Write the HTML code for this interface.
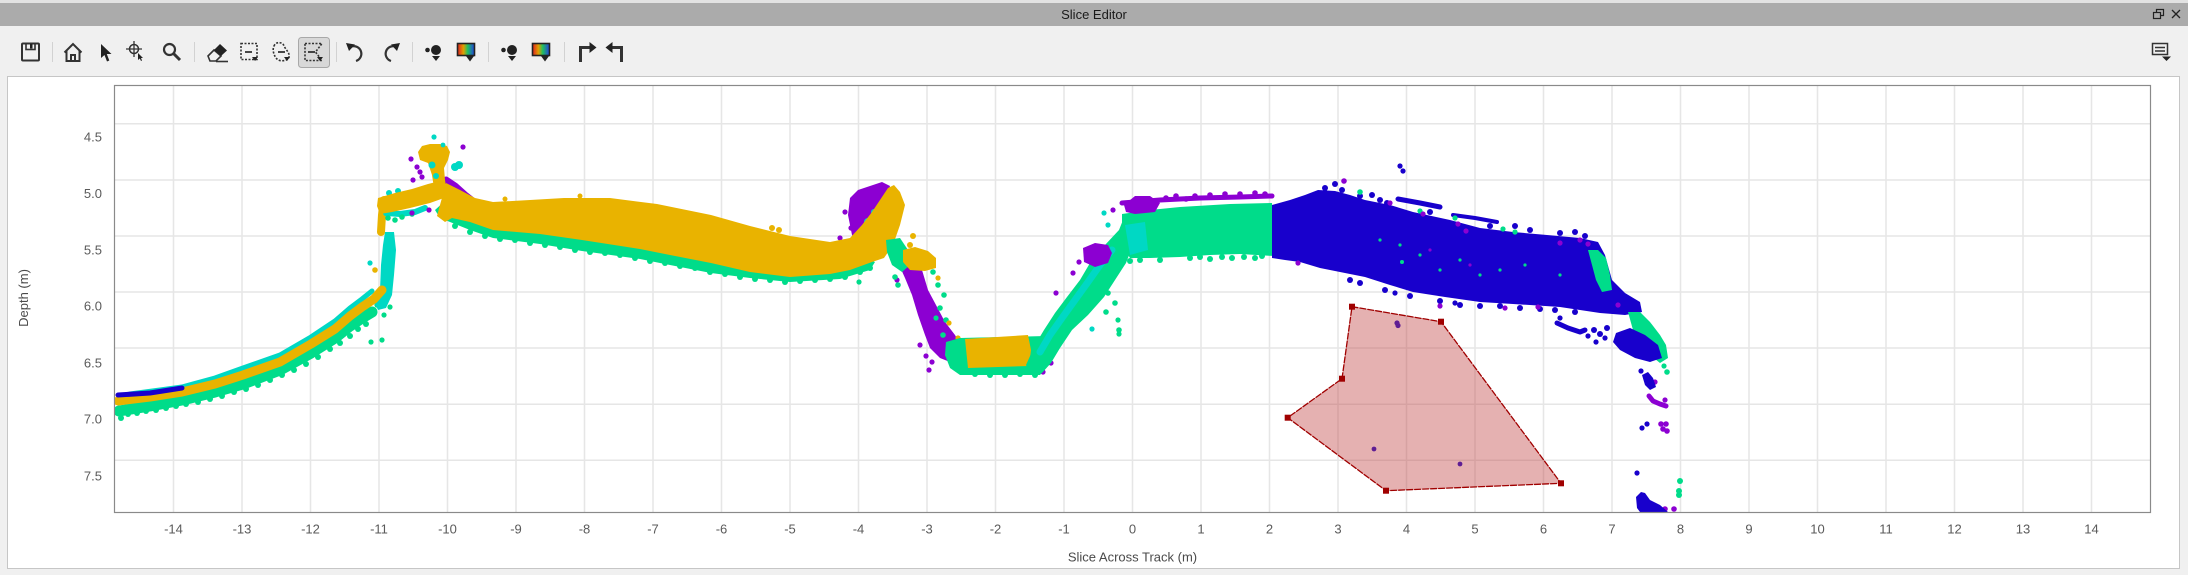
<!DOCTYPE html>
<html><head><meta charset="utf-8"><style>
html,body{margin:0;padding:0;background:#f0f0f0;overflow:hidden}
svg{display:block;font-family:"Liberation Sans",Arial,sans-serif}
</style></head><body>
<svg width="2188" height="575" xmlns="http://www.w3.org/2000/svg">
<defs>
<linearGradient id="cb" x1="0" y1="0" x2="1" y2="0">
<stop offset="0" stop-color="#e02020"/><stop offset="0.35" stop-color="#e0a000"/><stop offset="0.6" stop-color="#20c060"/><stop offset="1" stop-color="#2040e0"/>
</linearGradient>
<clipPath id="pc"><rect x="114" y="85" width="2036" height="427"/></clipPath>
</defs>
<rect width="2188" height="575" fill="#f0f0f0"/>
<rect x="0" y="0" width="2188" height="3" fill="#e2e2e2"/>
<rect x="0" y="3" width="2188" height="23" fill="#ababab"/>
<text x="1094" y="19" text-anchor="middle" font-size="13" fill="#1a1a1a">Slice Editor</text>
<!-- title bar right icons -->
<rect x="2153.5" y="12.5" width="7" height="6" fill="none" stroke="#222" stroke-width="1.2"/>
<path d="M2156.5,12.5 V9.5 H2163.5 V15.5 H2160.5" fill="none" stroke="#222" stroke-width="1.2"/>
<path d="M2172,10 L2180,18 M2180,10 L2172,18" stroke="#222" stroke-width="1.3"/>

<!-- toolbar -->
<g stroke="#d2d2d2" stroke-width="1">
<line x1="52.5" y1="42" x2="52.5" y2="62"/><line x1="194.5" y1="42" x2="194.5" y2="62"/>
<line x1="336.5" y1="42" x2="336.5" y2="62"/><line x1="412.5" y1="42" x2="412.5" y2="62"/>
<line x1="488.5" y1="42" x2="488.5" y2="62"/><line x1="564.5" y1="42" x2="564.5" y2="62"/>
</g>
<rect x="298.5" y="37.5" width="31" height="30" rx="3" fill="#d8d8d8" stroke="#a8a8a8"/>
<g fill="none" stroke="#333" stroke-width="2">
<!-- save -->
<rect x="22" y="43.5" width="17" height="17" rx="1"/>
<rect x="26" y="43.5" width="9" height="6" stroke-width="1.6"/>
<!-- home -->
<path d="M64.5,52.5 L73,44 L81.5,52.5 M66.5,50.5 V61 H79.5 V50.5 M71,61 V55 H75 V61"/>
<!-- crosshair -->
<circle cx="134" cy="49" r="4.5" stroke-width="1.5"/>
<path d="M134,41 V57 M126,49 H142" stroke-width="1.3"/>
<!-- magnifier -->
<circle cx="169.5" cy="49.5" r="5.5" stroke-width="2.2"/>
<path d="M173.5,53.5 L180,60" stroke-width="3"/>
<!-- eraser -->
<path d="M208,56 L214,50 L221,56 L216,61 H210 Z" stroke-width="1.6"/>
<path d="M216,61.5 H228" stroke-width="1.6"/>
<!-- rect select -->
<rect x="241" y="43.5" width="16" height="16" stroke-dasharray="2 1.5" stroke-width="1.6"/>
<path d="M245,52 H252" stroke-width="1.8"/>
<!-- lasso -->
<path d="M274,46 C276,41 283,42 284,46 C286,50 290,53 289,57 C288,61 280,62 277,59 C274,56 272,50 274,46 Z" stroke-dasharray="2 1.5" stroke-width="1.6"/>
<path d="M278,52 H285" stroke-width="1.8"/>
<!-- polygon select -->
<path d="M305,43.5 H322 L315.5,52 L322,60.5 H305 Z" stroke-dasharray="2 1.5" stroke-width="1.6"/>
<path d="M308,52 H315" stroke-width="1.8"/>
<!-- undo / redo -->
<path d="M351.5,46.5 A7.5,7.5 0 1,1 356,61" stroke-width="2.2"/>
<path d="M395.5,46.5 A7.5,7.5 0 1,0 391,61" stroke-width="2.2"/>
<!-- turn arrows -->
<path d="M580.5,62 V47.5 H591" stroke-width="3"/>
<path d="M621.5,62 V47.5 H611" stroke-width="3"/>
<!-- menu icon -->
<rect x="2152.5" y="43.5" width="15" height="11" stroke-width="1.5"/>
<path d="M2155,47.5 H2165 M2155,51 H2165" stroke-width="1.5"/>
</g>
<g fill="#222">
<rect x="30" y="44" width="2.5" height="4.5"/>
<polygon points="101,44 101,58 104.5,55 107,61.5 109.3,60.5 106.8,54 111.5,54"/>
<polygon points="138,53 138,60 139.8,58.5 141,61 142,60.5 141,58 143,58"/>
<polygon points="214,50 220,44 227,50.5 221,56"/>
<polygon points="252,57 258,57 255,61"/>
<polygon points="284,57 290,57 287,61"/>
<polygon points="317,57 323,57 320,61"/>
<polygon points="346,43 355,44.5 349,51"/>
<polygon points="400,43 391,44.5 397,51"/>
<circle cx="427.5" cy="50" r="2.3"/><circle cx="436" cy="50" r="5"/>
<polygon points="432,56 440,56 436,61"/>
<circle cx="503.5" cy="50" r="2.3"/><circle cx="512" cy="50" r="5"/>
<polygon points="508,56 516,56 512,61"/>
<polygon points="466,56 474,56 470,61.5"/>
<polygon points="541,56 549,56 545,61.5"/>
<polygon points="589.5,42 596.5,47.5 589.5,53"/>
<polygon points="612.5,42 605.5,47.5 612.5,53"/>
<polygon points="2162,56.5 2171,56.5 2166.5,61"/>
</g>
<rect x="457.5" y="43.5" width="17" height="12" fill="url(#cb)" stroke="#222" stroke-width="1.6"/>
<rect x="532.5" y="43.5" width="17" height="12" fill="url(#cb)" stroke="#222" stroke-width="1.6"/>

<!-- panel -->
<rect x="7.5" y="76.5" width="2172" height="492" fill="#ffffff" stroke="#c6c6c6"/>

<!-- gridlines -->
<g stroke="#e6e6e6" stroke-width="1.5">
<path d="M173.5,85V512M242,85V512M310.5,85V512M379,85V512M447.5,85V512M516,85V512M584.5,85V512M653,85V512M721.5,85V512M790,85V512M858.5,85V512M927,85V512M995.5,85V512M1064,85V512M1132.5,85V512M1201,85V512M1269.5,85V512M1338,85V512M1406.5,85V512M1475,85V512M1543.5,85V512M1612,85V512M1680.5,85V512M1749,85V512M1817.5,85V512M1886,85V512M1954.5,85V512M2023,85V512M2091.5,85V512"/>
<path d="M114,123.7H2150M114,180H2150M114,236H2150M114,292H2150M114,348H2150M114,404.3H2150M114,460.3H2150"/>
</g>

<!-- data -->
<g clip-path="url(#pc)" stroke-linecap="round" stroke-linejoin="round">
<!-- Segment A -->
<polyline points="119,411 150,406 182,400 215,392 243,384 280,370 311,353 335,338 350,326 362,318 372,312" fill="none" stroke="#00dc8a" stroke-width="11"/>
<g fill="#00dc8a">
<circle cx="121" cy="418" r="3"/><circle cx="128" cy="414" r="3"/><circle cx="137" cy="413" r="3"/><circle cx="146" cy="411" r="3"/><circle cx="156" cy="410" r="3"/><circle cx="166" cy="408" r="3"/><circle cx="176" cy="406" r="3"/><circle cx="186" cy="404" r="3"/><circle cx="198" cy="402" r="3"/><circle cx="210" cy="399" r="3"/><circle cx="222" cy="396" r="3"/><circle cx="234" cy="392" r="3"/><circle cx="246" cy="389" r="3"/><circle cx="258" cy="385" r="3"/><circle cx="270" cy="380" r="3"/><circle cx="282" cy="375" r="3"/><circle cx="294" cy="370" r="3"/><circle cx="306" cy="364" r="3"/><circle cx="318" cy="357" r="3"/><circle cx="330" cy="349" r="3"/><circle cx="340" cy="343" r="3"/><circle cx="350" cy="336" r="3"/><circle cx="358" cy="329" r="3"/><circle cx="366" cy="324" r="3"/>
<circle cx="371" cy="342" r="2.6"/><circle cx="382" cy="340" r="2.6"/><circle cx="377" cy="305" r="2.6"/><circle cx="384" cy="315" r="2.6"/><circle cx="390" cy="307" r="2.6"/>
</g>
<polyline points="130,394 160,390 182,387 215,378 243,368 280,355 311,337 335,321 350,308 362,299 372,291" fill="none" stroke="#00d8c4" stroke-width="5"/>
<polygon points="374,302 380,290 381,265 383,245 385,232 394,232 396,250 394,275 392,295 386,308 378,310" fill="#00d8c4"/>
<g fill="#00d8c4"><circle cx="370" cy="263" r="2.6"/><circle cx="392" cy="267" r="2.6"/><circle cx="389" cy="193" r="3"/><circle cx="398" cy="191" r="3"/></g>
<polyline points="118,401 150,397 182,392 215,384 243,375 280,362 311,344 335,329 350,316 362,307 374,299 382,290" fill="none" stroke="#e9b300" stroke-width="9"/>
<polyline points="118,395 150,393 182,388" fill="none" stroke="#1800cc" stroke-width="5"/>
<polyline points="381,232 382,215 384,200" fill="none" stroke="#e9b300" stroke-width="8"/>
<circle cx="375" cy="270" r="2.8" fill="#e9b300"/>
<!-- plateau & peak -->
<polyline points="386,213 400,214 415,212 425,208" fill="none" stroke="#00d8c4" stroke-width="6"/>
<g fill="#00dc8a"><circle cx="388" cy="218" r="2.8"/><circle cx="395" cy="220" r="2.8"/><circle cx="402" cy="217" r="2.8"/><circle cx="412" cy="214" r="2.8"/></g>
<g fill="#8c00d2">
<circle cx="411" cy="159" r="2.6"/><circle cx="463" cy="147" r="2.6"/><circle cx="417" cy="167" r="2.6"/><circle cx="422" cy="177" r="2.6"/><circle cx="413" cy="180" r="2.6"/><circle cx="429" cy="210" r="2.6"/><circle cx="412" cy="213" r="2.6"/><circle cx="486" cy="205" r="2.6"/><circle cx="420" cy="172" r="2.6"/><circle cx="497" cy="207" r="2.4"/>
</g>
<polyline points="446,180 455,186 465,195 474,202" fill="none" stroke="#8c00d2" stroke-width="7"/>
<polygon points="378,198 395,193 412,189 428,184 440,181 447,188 444,198 430,203 410,208 392,212 380,214 377,206" fill="#e9b300"/>
<polygon points="418,152 422,146 430,144 440,144 447,146 450,152 448,160 444,168 445,180 447,192 440,196 434,188 432,175 428,163 420,160" fill="#e9b300"/>
<g fill="#00d8c4"><circle cx="432" cy="165" r="3.5"/><circle cx="436" cy="176" r="3"/><circle cx="455" cy="167" r="4"/><circle cx="459" cy="165" r="4"/><circle cx="434" cy="137" r="2.6"/><circle cx="443" cy="145" r="2.4"/></g>
<!-- main band B -->
<polygon points="446,200 470,212 493,222 540,228 582,236 640,244 670,250 711,258 750,266 790,272 840,268 865,258 875,262 870,270 840,279 790,282 750,278 711,273 670,265 640,259 582,251 540,244 493,238 470,230 450,222 440,218 435,210" fill="#00dc8a"/>
<g fill="#00dc8a">
<circle cx="455" cy="226" r="3"/><circle cx="470" cy="232" r="3"/><circle cx="485" cy="236" r="3"/><circle cx="500" cy="239" r="3"/><circle cx="515" cy="240" r="3"/><circle cx="530" cy="243" r="3"/><circle cx="545" cy="245" r="3"/><circle cx="560" cy="247" r="3"/><circle cx="575" cy="250" r="3"/><circle cx="590" cy="252" r="3"/><circle cx="605" cy="253" r="3"/><circle cx="620" cy="255" r="3"/><circle cx="635" cy="258" r="3"/><circle cx="650" cy="261" r="3"/><circle cx="665" cy="263" r="3"/><circle cx="680" cy="266" r="3"/><circle cx="695" cy="268" r="3"/><circle cx="710" cy="272" r="3"/><circle cx="725" cy="274" r="3"/><circle cx="740" cy="277" r="3"/><circle cx="755" cy="279" r="3"/><circle cx="770" cy="280" r="3"/><circle cx="785" cy="282" r="3"/><circle cx="800" cy="281" r="3"/><circle cx="815" cy="280" r="3"/><circle cx="830" cy="279" r="3"/><circle cx="845" cy="277" r="3"/><circle cx="860" cy="272" r="3"/><circle cx="870" cy="268" r="3"/><circle cx="859" cy="282" r="2.6"/>
</g>
<polygon points="850,198 858,190 870,186 882,182 890,186 884,205 878,225 872,242 860,246 852,235 848,215" fill="#8c00d2"/>
<g fill="#8c00d2"><circle cx="840" cy="238" r="2.6"/><circle cx="851" cy="228" r="2.6"/><circle cx="845" cy="212" r="2.6"/></g>
<circle cx="868" cy="222" r="4" fill="#00d8c4"/><circle cx="874" cy="212" r="3" fill="#00d8c4"/>
<polygon points="440,205 446,183 460,190 475,198 493,202 530,200 564,198 610,198 657,204 711,215 750,226 790,236 830,242 850,238 862,225 872,212 880,200 888,188 894,185 900,192 905,205 900,225 893,245 884,258 872,262 850,270 830,274 790,277 750,272 711,263 670,255 640,249 582,240 540,234 493,230 470,222 452,218 445,222 437,216" fill="#e9b300"/>
<g fill="#e9b300"><circle cx="772" cy="228" r="3"/><circle cx="779" cy="230" r="3"/><circle cx="913" cy="236" r="3"/><circle cx="910" cy="245" r="3"/><circle cx="580" cy="196" r="2.5"/><circle cx="505" cy="199" r="2.5"/></g>
<!-- descent -->
<polygon points="896,258 912,258 922,270 928,290 936,305 945,322 955,335 962,347 962,360 950,362 940,358 930,348 925,335 918,315 912,295 905,278" fill="#8c00d2"/>
<g fill="#8c00d2"><circle cx="897" cy="280" r="2.6"/><circle cx="926" cy="356" r="2.6"/><circle cx="929" cy="370" r="2.6"/><circle cx="920" cy="345" r="2.6"/><circle cx="932" cy="362" r="2.6"/><circle cx="1045" cy="340" r="2.8"/><circle cx="1050" cy="338" r="2.8"/><circle cx="1043" cy="372" r="2.6"/><circle cx="1051" cy="363" r="2.6"/><circle cx="1056" cy="293" r="2.6"/><circle cx="1073" cy="273" r="2.6"/></g>
<polygon points="886,240 900,238 908,250 910,265 902,272 892,265 887,252" fill="#00dc8a"/>
<g fill="#00dc8a"><circle cx="895" cy="277" r="2.8"/><circle cx="898" cy="285" r="2.8"/><circle cx="933" cy="272" r="2.8"/><circle cx="938" cy="285" r="2.8"/><circle cx="944" cy="295" r="2.8"/><circle cx="940" cy="308" r="2.8"/><circle cx="946" cy="320" r="2.8"/><circle cx="943" cy="335" r="2.8"/><circle cx="950" cy="345" r="2.8"/><circle cx="948" cy="355" r="2.8"/><circle cx="936" cy="318" r="2.6"/></g>
<polygon points="903,250 915,247 928,251 936,258 936,268 925,271 910,270 903,262" fill="#e9b300"/>
<g fill="#e9b300"><circle cx="938" cy="278" r="2.6"/><circle cx="949" cy="323" r="2.6"/><circle cx="958" cy="338" r="2.6"/></g>
<!-- bottom -->
<polygon points="946,342 960,338 1046,336 1050,350 1046,368 1040,375 960,375 950,368 945,355" fill="#00dc8a"/>
<g fill="#00dc8a"><circle cx="975" cy="374" r="3"/><circle cx="990" cy="375" r="3"/><circle cx="1005" cy="375" r="3"/><circle cx="1020" cy="374" r="3"/><circle cx="1035" cy="375" r="3"/></g>
<polygon points="965,339 1028,335 1031,350 1029,366 968,368" fill="#e9b300"/>
<!-- rising band -->
<polygon points="1026,365 1035,345 1044,330 1055,313 1067,297 1080,280 1090,263 1105,245 1119,230 1125,215 1140,212 1140,230 1133,245 1126,263 1115,280 1104,297 1088,315 1072,330 1060,348 1051,363 1042,373 1030,373" fill="#00dc8a"/>
<g fill="#00dc8a"><circle cx="1106" cy="312" r="2.8"/><circle cx="1119" cy="330" r="2.8"/><circle cx="1115" cy="303" r="2.8"/><circle cx="1108" cy="293" r="2.8"/><circle cx="1118" cy="320" r="2.6"/><circle cx="1119" cy="334" r="2.6"/></g>
<polyline points="1040,352 1050,335 1062,318 1075,300 1088,282 1100,265 1112,250" fill="none" stroke="#00d8c4" stroke-width="7"/>
<g fill="#00d8c4"><circle cx="1092" cy="329" r="2.6"/><circle cx="1104" cy="213" r="2.6"/><circle cx="1108" cy="225" r="2.6"/></g>
<polygon points="1083,248 1095,243 1108,245 1112,253 1108,263 1095,267 1084,262" fill="#8c00d2"/>
<circle cx="1079" cy="262" r="2.6" fill="#8c00d2"/>
<!-- plateau C -->
<polygon points="1122,214 1150,210 1180,207 1230,204 1272,203 1274,256 1240,254 1210,255 1180,257 1150,258 1130,258 1122,245" fill="#00dc8a"/>
<polygon points="1125,225 1145,222 1148,250 1130,255" fill="#00d8c4"/>
<g fill="#00dc8a"><circle cx="1190" cy="258" r="3"/><circle cx="1200" cy="257" r="3"/><circle cx="1210" cy="259" r="3"/><circle cx="1222" cy="257" r="3"/><circle cx="1232" cy="258" r="3"/><circle cx="1244" cy="257" r="3"/><circle cx="1255" cy="258" r="3"/><circle cx="1262" cy="256" r="3"/><circle cx="1130" cy="261" r="3"/><circle cx="1140" cy="260" r="3"/><circle cx="1160" cy="260" r="3"/></g>
<polygon points="1124,205 1135,196 1150,196 1160,203 1155,212 1135,214 1126,212" fill="#8c00d2"/>
<polyline points="1122,203 1160,200 1200,198 1240,197 1272,196" fill="none" stroke="#8c00d2" stroke-width="5"/>
<g fill="#8c00d2"><circle cx="1113" cy="210" r="2.6"/><circle cx="1166" cy="198" r="2.8"/><circle cx="1176" cy="196" r="2.8"/><circle cx="1186" cy="199" r="2.8"/><circle cx="1195" cy="196" r="2.8"/><circle cx="1210" cy="195" r="2.8"/><circle cx="1225" cy="194" r="2.8"/><circle cx="1240" cy="194" r="2.8"/><circle cx="1255" cy="193" r="2.8"/><circle cx="1265" cy="194" r="2.8"/></g>
<!-- blue block D -->
<polygon points="1272,205 1290,200 1305,195 1318,190 1335,191 1350,195 1365,200 1390,205 1413,212 1450,220 1480,228 1513,232 1547,235 1580,238 1598,242 1605,255 1612,280 1625,293 1640,302 1642,312 1625,315 1600,313 1580,310 1560,307 1530,305 1513,304 1480,302 1445,297 1413,292 1390,285 1365,277 1340,272 1320,268 1300,262 1285,260 1272,258" fill="#1800cc"/>
<polyline points="1398,199 1420,203 1440,207" fill="none" stroke="#1800cc" stroke-width="5"/>
<polyline points="1453,215 1475,218 1497,222" fill="none" stroke="#1800cc" stroke-width="4"/>
<g fill="#1800cc">
<circle cx="1325" cy="188" r="3"/><circle cx="1335" cy="184" r="3"/><circle cx="1342" cy="190" r="3"/><circle cx="1360" cy="196" r="3"/><circle cx="1372" cy="195" r="3"/><circle cx="1380" cy="200" r="3"/><circle cx="1387" cy="203" r="3"/><circle cx="1430" cy="212" r="3"/><circle cx="1460" cy="228" r="3"/><circle cx="1490" cy="226" r="3"/><circle cx="1515" cy="226" r="3"/><circle cx="1530" cy="230" r="3"/><circle cx="1560" cy="233" r="3"/><circle cx="1575" cy="232" r="3"/><circle cx="1585" cy="236" r="3"/><circle cx="1400" cy="166" r="2.6"/><circle cx="1403" cy="171" r="2.6"/>
<circle cx="1350" cy="280" r="3"/><circle cx="1360" cy="283" r="3"/><circle cx="1385" cy="290" r="3"/><circle cx="1410" cy="296" r="3"/><circle cx="1440" cy="301" r="3"/><circle cx="1460" cy="305" r="3"/><circle cx="1480" cy="306" r="3"/><circle cx="1500" cy="306" r="3"/><circle cx="1520" cy="308" r="3"/><circle cx="1540" cy="309" r="3"/><circle cx="1555" cy="310" r="3"/><circle cx="1575" cy="312" r="3"/><circle cx="1455" cy="303" r="2.6"/><circle cx="1395" cy="293" r="2.6"/>
</g>
<g fill="#00dc8a"><circle cx="1400" cy="245" r="1.6"/><circle cx="1420" cy="255" r="1.6"/><circle cx="1460" cy="260" r="1.6"/><circle cx="1480" cy="275" r="1.6"/><circle cx="1500" cy="270" r="1.6"/><circle cx="1380" cy="240" r="1.6"/><circle cx="1440" cy="270" r="1.6"/><circle cx="1525" cy="265" r="1.6"/><circle cx="1560" cy="275" r="1.6"/><circle cx="1402" cy="262" r="2"/><circle cx="1360" cy="192" r="2.8"/><circle cx="1420" cy="211" r="2.6"/><circle cx="1455" cy="218" r="2.6"/><circle cx="1503" cy="229" r="2.6"/><circle cx="1515" cy="232" r="2.6"/></g>
<g fill="#8c00d2"><circle cx="1344" cy="181" r="2.8"/><circle cx="1390" cy="203" r="2.6"/><circle cx="1423" cy="214" r="2.6"/><circle cx="1458" cy="224" r="2.6"/><circle cx="1466" cy="231" r="2.6"/><circle cx="1560" cy="243" r="2.6"/><circle cx="1580" cy="240" r="2.6"/><circle cx="1588" cy="244" r="2.6"/><circle cx="1298" cy="263" r="2.6"/><circle cx="1440" cy="306" r="2.6"/><circle cx="1505" cy="308" r="2.6"/><circle cx="1538" cy="307" r="2.6"/><circle cx="1618" cy="305" r="2.6"/><circle cx="1640" cy="317" r="2.6"/><circle cx="1430" cy="250" r="1.6"/><circle cx="1470" cy="265" r="1.6"/></g>
<!-- right end -->
<polygon points="1588,250 1598,250 1606,258 1610,275 1612,290 1602,292 1596,280 1592,265" fill="#00dc8a"/>
<polygon points="1628,312 1640,312 1650,322 1660,335 1666,345 1668,358 1660,363 1650,355 1642,345 1633,330" fill="#00dc8a"/>
<polygon points="1616,333 1630,328 1645,335 1658,345 1662,358 1650,362 1635,358 1620,350 1613,342" fill="#1800cc"/>
<polyline points="1557,323 1568,328 1580,332 1585,330" fill="none" stroke="#1800cc" stroke-width="5"/>
<g fill="#1800cc"><circle cx="1594" cy="330" r="3"/><circle cx="1600" cy="334" r="3"/><circle cx="1588" cy="336" r="2.6"/><circle cx="1607" cy="328" r="3"/><circle cx="1596" cy="342" r="2.6"/><circle cx="1605" cy="338" r="2.6"/><circle cx="1560" cy="318" r="2.6"/></g>
<g fill="#00dc8a"><circle cx="1667" cy="372" r="2.8"/><circle cx="1664" cy="366" r="2.6"/><circle cx="1680" cy="481" r="3"/><circle cx="1679" cy="491" r="3"/><circle cx="1679" cy="495" r="3"/></g>
<g fill="#8c00d2"><circle cx="1655" cy="382" r="2.6"/><circle cx="1661" cy="424" r="2.8"/><circle cx="1666" cy="424" r="2.8"/><circle cx="1663" cy="429" r="2.8"/><circle cx="1667" cy="431" r="2.8"/><circle cx="1665" cy="509" r="2.8"/><circle cx="1674" cy="509" r="2.8"/><circle cx="1665" cy="400" r="2.6"/></g>
<polyline points="1649,396 1653,401 1660,404 1666,406" fill="none" stroke="#8c00d2" stroke-width="5"/>
<polygon points="1642,375 1648,372 1653,378 1656,387 1650,390 1645,385" fill="#1800cc"/>
<g fill="#1800cc"><circle cx="1641" cy="371" r="2.6"/><circle cx="1642" cy="428" r="2.6"/><circle cx="1647" cy="424" r="2.6"/><circle cx="1637" cy="473" r="2.6"/></g>
<polygon points="1636,497 1641,492 1645,493 1650,500 1660,505 1668,512 1640,512 1637,508" fill="#1800cc"/>
<!-- points inside selection -->
<g fill="#1800cc"><circle cx="1397" cy="323" r="2.6"/><circle cx="1398" cy="325.5" r="2.6"/><circle cx="1374" cy="449" r="2.4"/><circle cx="1460" cy="464" r="2.4"/></g>
<!-- selection polygon -->
<polygon points="1352,306.7 1441,321.7 1561,483.3 1386,490.7 1287.7,417.7 1342,378.7" fill="#c04545" fill-opacity="0.42" stroke="#a00000" stroke-width="1.3" stroke-dasharray="6 2" stroke-linejoin="miter"/>
<g fill="#a00000"><rect x="1349" y="303.7" width="6" height="6"/><rect x="1438" y="318.7" width="6" height="6"/><rect x="1558" y="480.3" width="6" height="6"/><rect x="1383" y="487.7" width="6" height="6"/><rect x="1284.7" y="414.7" width="6" height="6"/><rect x="1339" y="375.7" width="6" height="6"/></g>
</g>

<!-- plot border -->
<rect x="114.5" y="85.5" width="2036" height="427" fill="none" stroke="#8a8a8a" stroke-width="1.2"/>

<!-- y tick labels -->
<g font-size="13" fill="#5a5a5a" text-anchor="end">
<text x="102" y="141.5">4.5</text><text x="102" y="198">5.0</text><text x="102" y="254.5">5.5</text><text x="102" y="310.5">6.0</text><text x="102" y="367.5">6.5</text><text x="102" y="423.5">7.0</text><text x="102" y="480.5">7.5</text>
</g>
<!-- x tick labels -->
<g font-size="13" fill="#5a5a5a" text-anchor="middle">
<text x="173.5" y="533.5">-14</text><text x="242" y="533.5">-13</text><text x="310.5" y="533.5">-12</text><text x="379" y="533.5">-11</text><text x="447.5" y="533.5">-10</text><text x="516" y="533.5">-9</text><text x="584.5" y="533.5">-8</text><text x="653" y="533.5">-7</text><text x="721.5" y="533.5">-6</text><text x="790" y="533.5">-5</text><text x="858.5" y="533.5">-4</text><text x="927" y="533.5">-3</text><text x="995.5" y="533.5">-2</text><text x="1064" y="533.5">-1</text><text x="1132.5" y="533.5">0</text><text x="1201" y="533.5">1</text><text x="1269.5" y="533.5">2</text><text x="1338" y="533.5">3</text><text x="1406.5" y="533.5">4</text><text x="1475" y="533.5">5</text><text x="1543.5" y="533.5">6</text><text x="1612" y="533.5">7</text><text x="1680.5" y="533.5">8</text><text x="1749" y="533.5">9</text><text x="1817.5" y="533.5">10</text><text x="1886" y="533.5">11</text><text x="1954.5" y="533.5">12</text><text x="2023" y="533.5">13</text><text x="2091.5" y="533.5">14</text>
</g>
<!-- axis titles -->
<text x="1132.5" y="561.5" text-anchor="middle" font-size="13" fill="#4a4a4a">Slice Across Track (m)</text>
<text transform="translate(28,298) rotate(-90)" text-anchor="middle" font-size="13" fill="#4a4a4a">Depth (m)</text>
</svg>
</body></html>
